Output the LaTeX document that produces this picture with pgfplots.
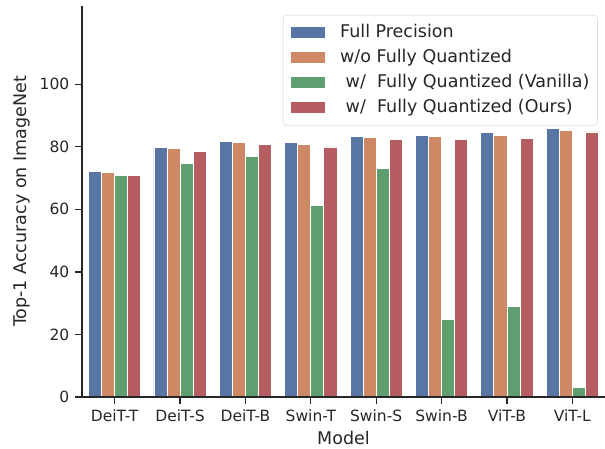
\documentclass[border=0pt]{standalone}
\usepackage{fontspec}
\setmainfont{DejaVu Sans}
\usepackage{pgfplots}
\pgfplotsset{compat=1.18}
\definecolor{c1}{HTML}{5975A4}
\definecolor{c2}{HTML}{CC8963}
\definecolor{c3}{HTML}{5F9E6E}
\definecolor{c4}{HTML}{B55D60}
\definecolor{tc}{HTML}{262626}
\begin{document}
\fontsize{16.5}{19}\selectfont
\begin{tikzpicture}
\begin{axis}[
  at={(0,0)}, anchor=south west,
  scale only axis, width=523pt, height=391pt,
  xmin=-0.5, xmax=7.5, ymin=0, ymax=125,
  axis lines*=left, axis on top,
  axis line style={tc, line width=1.3pt},
  tick style={tc, line width=1.3pt},
  tick align=outside, major tick length=7pt,
  xtick={0,...,7},
  xticklabels={DeiT-T,DeiT-S,DeiT-B,Swin-T,Swin-S,Swin-B,ViT-B,ViT-L},
  ytick={0,20,40,60,80,100},
  /pgf/number format/assume math mode=true,
  ticklabel style={font=\fontsize{15.5}{18}\selectfont, text=tc},
  label style={font=\fontsize{17.5}{20}\selectfont, text=tc},
  xlabel={Model},
  ylabel={Top-1 Accuracy on ImageNet},
  xlabel style={yshift=2pt},
  ylabel style={at={(axis description cs:-0.1157,0.5)}, anchor=center},
  ybar, bar width=0.2,
  every axis plot/.append style={draw=white, line width=0.8pt},
  legend cell align=left,
  legend style={at={(0.3843,0.977)}, anchor=north west, draw=black!20, rounded corners=3pt, fill=white, text=tc,
    font=\fontsize{17.5}{20}\selectfont, row sep=8pt, inner xsep=8pt, inner ysep=9pt,
    nodes={text height=13pt, text depth=4pt, inner ysep=0pt, inner xsep=0pt}},
  legend image code/.code={\fill[#1, draw=none, sharp corners] (0pt,-5.5pt) rectangle (34pt,5.5pt); \path[draw=none, fill=none] (0pt,0pt) -- (49pt,0pt);},
]
\addplot[fill=c1, bar shift=-0.3] coordinates {(0,72.21) (1,79.85) (2,81.80) (3,81.35) (4,83.20) (5,83.60) (6,84.53) (7,85.81)};
\addplot[fill=c2, bar shift=-0.1] coordinates {(0,71.85) (1,79.45) (2,81.45) (3,80.65) (4,82.95) (5,83.25) (6,83.55) (7,85.35)};
\addplot[fill=c3, bar shift=0.1] coordinates {(0,70.85) (1,74.75) (2,76.85) (3,61.35) (4,73.15) (5,24.75) (6,28.85) (7,3.15)};
\addplot[fill=c4, bar shift=0.3] coordinates {(0,70.85) (1,78.45) (2,80.75) (3,79.95) (4,82.45) (5,82.45) (6,82.65) (7,84.75)};
\legend{Full Precision, w/o Fully Quantized, \ w/\ \ Fully Quantized (Vanilla), \ w/\ \ Fully Quantized (Ours)}
\end{axis}
\pgfresetboundingbox
\path (-82pt,-51pt) rectangle (523pt,397pt);
\end{tikzpicture}
\end{document}
